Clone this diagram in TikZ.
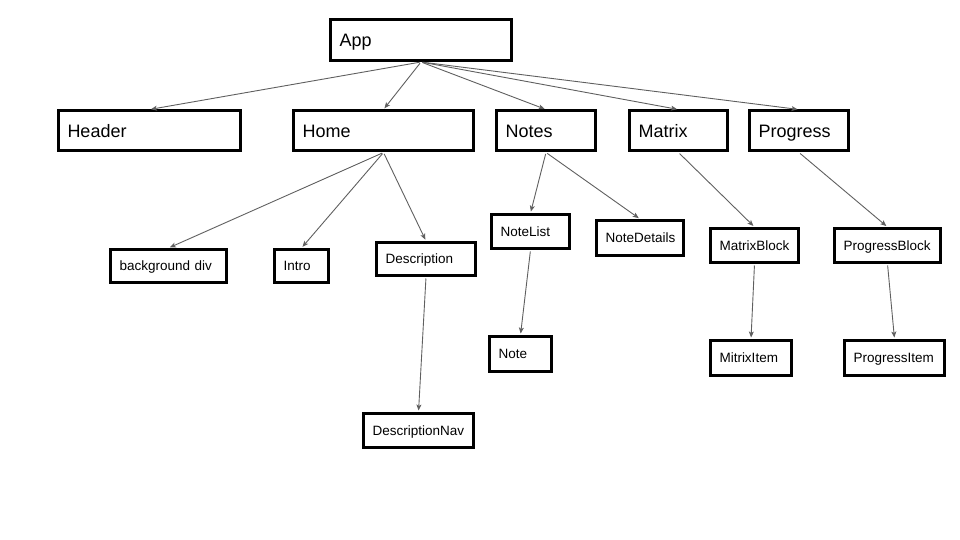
\documentclass[tikz,border=0pt]{standalone}
\usepackage{fontspec}
\setmainfont{Liberation Sans}
\usetikzlibrary{arrows.meta}
\hyphenpenalty=10000
\exhyphenpenalty=10000
\definecolor{linkgray}{RGB}{95,95,95}
\begin{document}
\begin{tikzpicture}[x=1pt, y=-1pt,
  box/.style={draw=black, line width=3pt, fill=white, align=left,
    inner xsep=9pt, inner ysep=0pt, text depth=0pt},
  bigbox/.style={box, font=\fontsize{18}{21}\selectfont, text height=12.9pt},
  smallbox/.style={box, font=\fontsize{13.5}{16}\selectfont, text height=9.4pt},
  link/.style={draw=linkgray, line width=0.9pt,
    -{Stealth[length=6pt, width=5pt, inset=1.5pt]},
    shorten <=1.5pt, shorten >=1.5pt}
]
\path[use as bounding box] (0,0) rectangle (960,540);

% top component
\node[bigbox, text width=163pt, minimum height=41pt] (app) at (421,40) {App};

% first level
\node[bigbox, text width=164pt, minimum height=40pt] (header)   at (149.5,131) {Header};
\node[bigbox, text width=162pt, minimum height=40pt] (home)     at (383.5,131) {Home};
\node[bigbox, text width=81pt,  minimum height=40pt] (notes)    at (546,131)   {Notes};
\node[bigbox, text width=80pt,  minimum height=40pt] (matrix)   at (678.5,131) {Matrix};
\node[bigbox, text width=81pt,  minimum height=40pt] (progress) at (799,131)   {Progress};

% second level
\node[smallbox, text width=98pt, minimum height=33pt] (bgdiv)   at (168.5,266) {background div};
\node[smallbox, text width=36pt, minimum height=33pt] (intro)   at (301.5,266) {Intro};
\node[smallbox, text width=81pt, minimum height=33pt] (descr)   at (426,259)   {Description};
\node[smallbox, text width=60pt, minimum height=34pt] (notelist) at (530.5,231.5) {NoteList};
\node[smallbox, text width=69pt, minimum height=35pt] (notedet)  at (640,238)   {NoteDetails};
\node[smallbox, text width=70pt, minimum height=34pt] (mblock)   at (754.5,245.5) {MatrixBlock};
\node[smallbox, text width=88pt, minimum height=34pt] (pblock)   at (887.5,245.5) {ProgressBlock};

% third level
\node[smallbox, text width=44pt, minimum height=35pt] (note)     at (520.5,354) {Note};
\node[smallbox, text width=63pt, minimum height=35pt] (mitem)    at (751,358)   {MitrixItem};
\node[smallbox, text width=82pt, minimum height=35pt] (pitem)    at (894.5,358) {ProgressItem};
\node[smallbox, text width=92pt, minimum height=34pt] (descnav)  at (418.5,430.5) {DescriptionNav};

% connectors
\draw[link] (app.south) -- (header.north);
\draw[link] (app.south) -- (home.north);
\draw[link] (app.south) -- (notes.north);
\draw[link] (app.south) -- (matrix.north);
\draw[link] (app.south) -- (progress.north);

\draw[link] (home.south) -- (bgdiv.north);
\draw[link] (home.south) -- (intro.north);
\draw[link] (home.south) -- (descr.north);
\draw[link] (descr.south) -- (descnav.north);

\draw[link] (notes.south) -- (notelist.north);
\draw[link] (notes.south) -- (notedet.north);
\draw[link] (notelist.south) -- (note.north);

\draw[link] (matrix.south) -- (mblock.north);
\draw[link] (mblock.south) -- (mitem.north);

\draw[link] (progress.south) -- (pblock.north);
\draw[link] (pblock.south) -- (pitem.north);
\end{tikzpicture}
\end{document}
